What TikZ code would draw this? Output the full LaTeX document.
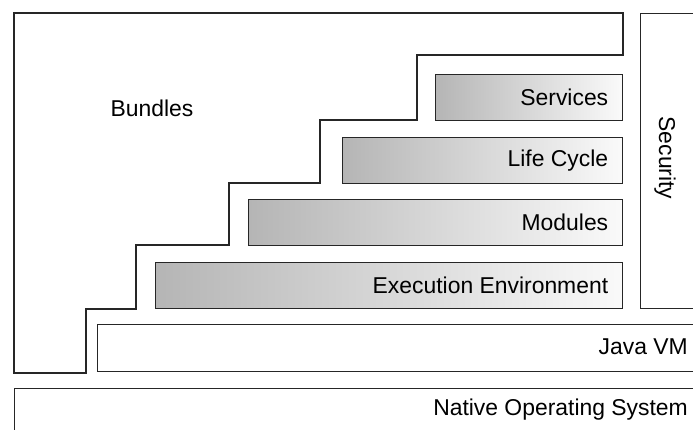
\documentclass[tikz,border=0pt]{standalone}
\usepackage{fontspec}
\setmainfont{Liberation Sans}
\usetikzlibrary{positioning, calc}

\tikzset{
  edge line/.style={draw=black!85, line width=1.4pt},
  layer/.style={edge line, left color=black!29, right color=black!2, minimum height=46pt, inner sep=0pt, anchor=north west},
  plain/.style={edge line, fill=white, inner sep=0pt, anchor=north west},
  lbl/.style={font=\fontsize{22.9}{27}\selectfont, inner sep=0pt}
}

\begin{document}
\begin{tikzpicture}[x=1pt, y=-1pt]
		\useasboundingbox (0,0) rectangle (693,430);
		% bundles outline, stepping down to the left
		\draw[edge line] (14,13) -- (623,13) -- (623,55) -- (417,55) -- (417,120) -- (320,120)
			-- (320,183) -- (229,183) -- (229,245) -- (136,245) -- (136,309) -- (86,309)
			-- (86,373) -- (14,373) -- cycle;
		\node[lbl] (bundles) at (152,108) {Bundles};
		
		\node[layer, minimum width=187pt] (services) at (435,74) {};
		\node[layer, minimum width=280pt] (life) at (342,137) {};
		\node[layer, minimum width=374pt] (modules) at (248,199) {};
		\node[layer, minimum width=467pt] (exec) at (155,262) {};
		\node[lbl, anchor=east] (servicesTxt) at ([xshift=-15pt]services.east) {Services};
		\node[lbl, anchor=east] (lifeTxt) at ([xshift=-15pt]life.east) {Life Cycle};
		\node[lbl, anchor=east] (modulesTxt) at ([xshift=-15pt]modules.east) {Modules};
		\node[lbl, anchor=east] (execTxt) at ([xshift=-15pt]exec.east) {Execution Environment};
		
		\node[plain, minimum width=70pt, minimum height=295pt] (security) at (640,13) {};
		\node[lbl, rotate=-90] (securityTxt) at (665,158) {Security};
		
		\node[plain, minimum width=610pt, minimum height=47pt] (jvm) at (97,324) {};
		\node[lbl] (jvmTxt) at (688,347) [anchor=east] {Java VM};
		\node[plain, minimum width=690pt, minimum height=60pt] (os) at (14,388) {};
		\node[lbl] (osTxt) at (688,410) [anchor=east] {Native Operating System};
	\end{tikzpicture}
\end{document}
